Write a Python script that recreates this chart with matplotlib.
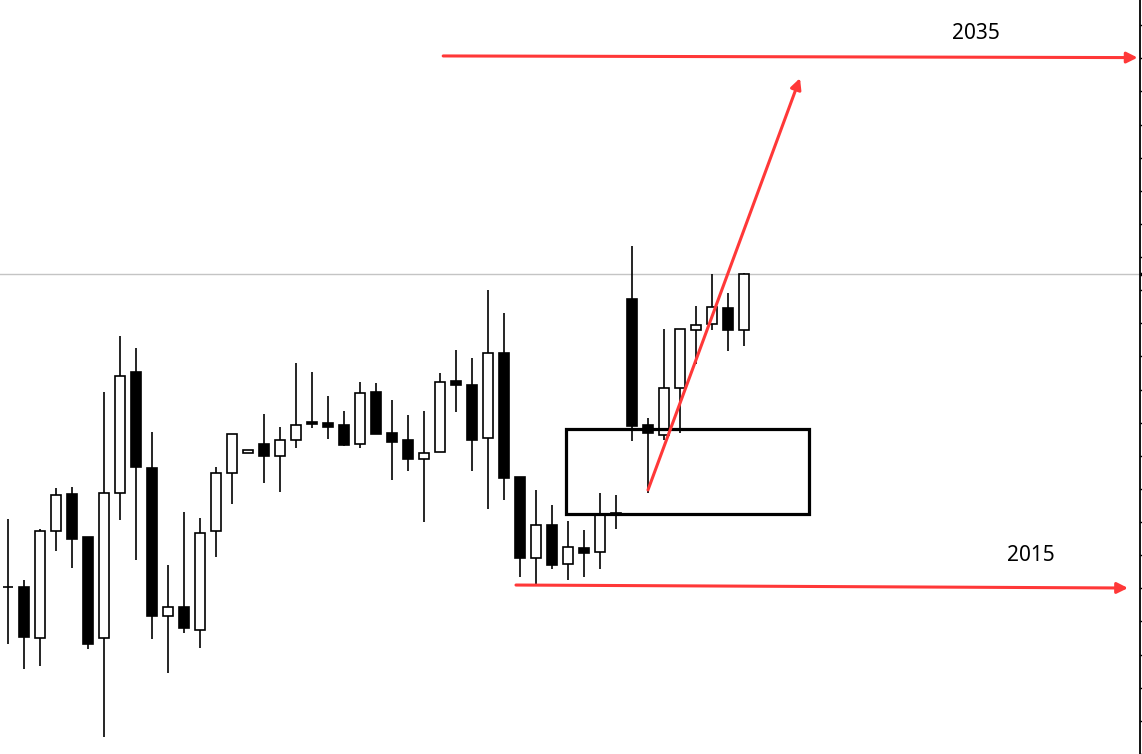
import matplotlib
matplotlib.use("Agg")
import matplotlib.pyplot as plt
from matplotlib.patches import Rectangle

# OHLC (price units, right-axis ticks every 10)
opens = [50.3, 50.3, 34.9, 67.2, 78.5, 65.5, 34.9, 78.7, 115.3, 86.3,
         41.6, 44.3, 37.4, 67.3, 84.7, 91.0, 93.5, 89.9, 94.7, 100.2,
         99.9, 99.2, 93.5, 109.3, 96.8, 94.8, 89.0, 91.1, 112.6, 111.4,
         95.3, 121.0, 83.6, 59.1, 69.1, 57.3, 62.2, 60.9, 72.1, 137.2,
         99.2, 96.2, 110.4, 127.9, 129.7, 134.5, 127.9]
highs = [70.9, 52.5, 67.8, 80.3, 80.6, 65.5, 109.3, 126.2, 122.5, 97.2,
         57.0, 73.0, 71.2, 86.6, 96.5, 91.7, 102.6, 98.6, 118.0, 115.3,
         108.1, 103.5, 112.3, 112.0, 106.9, 102.3, 103.5, 115.0, 121.9, 119.5,
         140.1, 133.1, 83.6, 79.7, 75.2, 70.3, 67.6, 78.8, 78.2, 153.3,
         101.3, 128.3, 128.2, 135.2, 144.9, 139.1, 145.1]
lows = [33.1, 25.7, 26.7, 61.4, 56.2, 31.6, 5.0, 70.7, 58.6, 34.8,
        24.4, 36.6, 32.0, 59.5, 75.6, 91.0, 81.9, 79.2, 92.5, 98.5,
        95.2, 93.1, 92.5, 96.7, 82.8, 85.5, 70.1, 91.1, 103.3, 85.5,
        74.0, 76.8, 53.5, 51.3, 55.9, 52.6, 53.5, 55.9, 68.0, 94.6,
        78.7, 94.8, 96.8, 117.8, 127.9, 121.7, 123.2]
closes = [50.3, 35.2, 67.2, 78.1, 65.0, 33.1, 78.7, 114.0, 86.7, 41.6,
          44.3, 38.1, 66.6, 84.7, 96.5, 91.7, 90.0, 94.7, 99.2, 99.7,
          98.8, 93.4, 108.9, 96.7, 94.3, 89.1, 90.8, 112.2, 111.5, 94.9,
          120.9, 83.4, 59.3, 69.0, 57.1, 62.4, 60.8, 72.0, 72.6, 99.1,
          97.0, 110.4, 128.2, 129.4, 134.8, 128.1, 144.8]

# annotations
zone_x = [34.875, 50.09]
zone_y = [72.3, 98.2]
trend_start = (40.0, 79.7)
trend_end = (49.5, 204.0)
level_2035 = [(27.2, 210.7), (70.6, 210.2)]
level_2015 = [(31.75, 51.0), (70.0, 50.1)]
labels = [("2035", 60.5, 217.6), ("2015", 63.94, 59.8)]
last_price = closes[-1]

RED = "#ff3838"

fig = plt.figure(figsize=(11.42, 7.54), dpi=100)
ax = fig.add_axes([0, 0, 1139.5 / 1142, 1])
ax.set_xlim(-0.5, 70.72)
ax.set_ylim(0, 754 * 0.30184)

idx = list(range(len(opens)))
ax.vlines(idx, lows, highs, color="black", lw=1.2, zorder=2)
for i, (o, c) in enumerate(zip(opens, closes)):
    bottom = min(o, c)
    h = max(abs(c - o), 0.15)
    face = "white" if c >= o else "black"
    ax.bar(i, h, bottom=bottom, width=0.65, color=face, edgecolor="black",
           linewidth=1.2, zorder=3)

ax.axhline(last_price, color="#c4c4c4", lw=1, zorder=1)

ax.add_patch(Rectangle((zone_x[0], zone_y[0]), zone_x[1] - zone_x[0],
                       zone_y[1] - zone_y[0], fill=False, edgecolor="black",
                       lw=2.3, zorder=4))

ax.annotate("", xy=trend_end, xytext=trend_start,
            arrowprops=dict(arrowstyle="-|>", color=RED, lw=2.2,
                            mutation_scale=16, shrinkA=0, shrinkB=0), zorder=5)
for (p0, p1) in (level_2035, level_2015):
    ax.annotate("", xy=p1, xytext=p0, annotation_clip=False,
                arrowprops=dict(arrowstyle="-|>", color=RED, lw=2.2,
                                mutation_scale=16, shrinkA=0, shrinkB=0), zorder=5)
for txt, x, y in labels:
    ax.text(x, y, txt, ha="center", va="center", fontsize=15,
            family=["Noto Sans", "DejaVu Sans"], color="black")

for s in ("top", "left", "bottom"):
    ax.spines[s].set_visible(False)
ax.spines["right"].set_linewidth(1.3)
ax.set_xticks([])
ax.yaxis.tick_right()
ax.set_yticks(range(0, 230, 10))
ax.set_yticks([last_price], minor=True)
ax.tick_params(axis="y", which="major", direction="out", length=2.5, width=1,
               labelright=False)
ax.tick_params(axis="y", which="minor", direction="out", length=2.5, width=2.5,
               labelright=False)

fig.savefig("out.png", dpi=100)
